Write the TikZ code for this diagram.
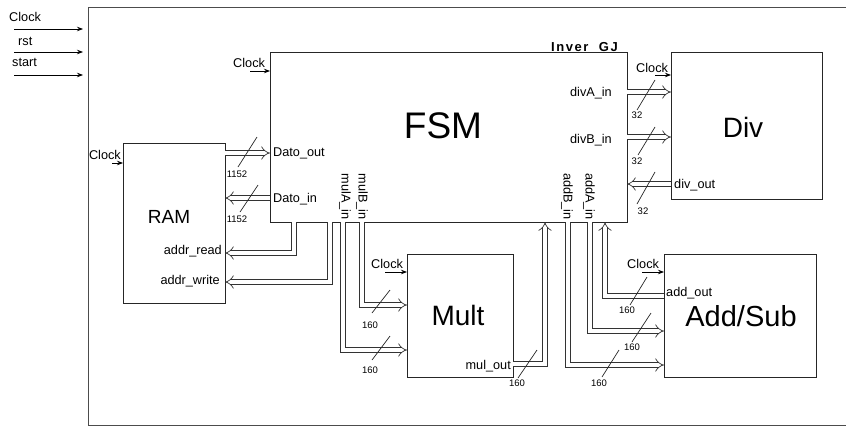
\documentclass[tikz,border=0pt]{standalone}
\usepackage{fontspec}
\setmainfont{Liberation Sans}
\usetikzlibrary{arrows.meta}
\begin{document}
\begin{tikzpicture}[x=1pt,y=-1pt,
  blk/.style={draw=black!85, line width=0.8pt, inner sep=0pt, anchor=north west},
  lbl/.style={inner sep=0pt, font=\fontsize{12.7}{14}\selectfont},
  num/.style={inner sep=0pt, font=\fontsize{9.5}{11}\selectfont},
  sig/.style={draw=black, line width=0.8pt, -{Stealth[length=6pt,width=4.5pt]}},
  bus/.style={draw=black!80, line width=0.7pt, double=white, double distance=4pt, -{Implies}},
  slash/.style={draw=black!85, line width=0.7pt},
  outer/.style={draw=black!70, line width=0.8pt}]
\useasboundingbox (0,0) rectangle (846,426);
% outer frame
\draw[outer] (852,7) -- (88,7) -- (88,425) -- (852,425);
% global inputs
\node[lbl, anchor=west] (clkin) at (9,17) {Clock};
\node[lbl, anchor=west] (rstin) at (18,41) {rst};
\node[lbl, anchor=west] (startin) at (12,62) {start};
\coordinate (c1s) at (14,29); \coordinate (c1e) at (83,29);
\coordinate (c2s) at (14,52); \coordinate (c2e) at (83,52);
\coordinate (c3s) at (14,75); \coordinate (c3e) at (83,75);
\draw[sig] (c1s) -- (c1e);
\draw[sig] (c2s) -- (c2e);
\draw[sig] (c3s) -- (c3e);
% module name (underscore hidden by the FSM top edge)
\node[inner sep=0pt, anchor=base east, font=\fontsize{13}{15}\selectfont\bfseries\addfontfeature{LetterSpace=12}] (inv) at (618,51.3) {Inver\_GJ};
% blocks
\node[blk, minimum width=357pt, minimum height=170pt, line width=1.1pt] (fsm) at (270,52) {};
\node[blk, minimum width=151pt, minimum height=147pt] (div) at (671,52) {};
\node[blk, minimum width=102pt, minimum height=160pt] (ram) at (123,143) {};
\node[blk, minimum width=106pt, minimum height=123pt] (mult) at (407,254) {};
\node[blk, minimum width=152pt, minimum height=123pt] (add) at (664,254) {};
% block titles
\node[inner sep=0pt, font=\fontsize{37}{40}\selectfont] (fsmt) at (443,126) {FSM};
\node[inner sep=0pt, font=\fontsize{28}{30}\selectfont] (divt) at (743,127) {Div};
\node[inner sep=0pt, font=\fontsize{19}{21}\selectfont] (ramt) at (169,217) {RAM};
\node[inner sep=0pt, font=\fontsize{28}{30}\selectfont] (multt) at (458,315) {Mult};
\node[inner sep=0pt, font=\fontsize{29}{31}\selectfont] (addt) at (741,316) {Add/Sub};
% clocks
\node[lbl, anchor=west] (fsmclk) at (233,63) {Clock};
\coordinate (fck1) at (250,71); \coordinate (fck2) at (270,71);
\draw[sig] (fck1) -- (fck2);
\node[lbl, anchor=east] (ramclk) at (121,155) {Clock};
\coordinate (rck1) at (112,163); \coordinate (rck2) at (123,163);
\draw[sig] (rck1) -- (rck2);
\node[lbl, anchor=west] (multclk) at (371,264) {Clock};
\coordinate (mck1) at (385,272); \coordinate (mck2) at (407,272);
\draw[sig] (mck1) -- (mck2);
\node[lbl, anchor=west] (addclk) at (627,264) {Clock};
\coordinate (ack1) at (642,272); \coordinate (ack2) at (664,272);
\draw[sig] (ack1) -- (ack2);
\node[lbl, anchor=west] (divclk) at (636,68) {Clock};
\coordinate (dck1) at (655,75); \coordinate (dck2) at (671,75);
\draw[sig] (dck1) -- (dck2);
% port labels
\node[lbl, anchor=west] (dout) at (273,153) {Dato\_out};
\node[lbl, anchor=west] (din) at (273,199) {Dato\_in};
\node[lbl, anchor=east] (ard) at (222,251) {addr\_read};
\node[lbl, anchor=east] (awr) at (220,281) {addr\_write};
\node[lbl, anchor=east] (mout) at (511,366) {mul\_out};
\node[lbl, anchor=west] (dvout) at (674,185) {div\_out};
\node[lbl, anchor=west] (aout) at (666,293) {add\_out};
\node[lbl, anchor=east] (dva) at (612,93) {divA\_in};
\node[lbl, anchor=east] (dvb) at (612,140) {divB\_in};
\node[lbl, anchor=east, rotate=-90] (mula) at (345,220) {mulA\_in};
\node[lbl, anchor=east, rotate=-90] (mulb) at (362,220) {mulB\_in};
\node[lbl, anchor=east, rotate=-90] (addb) at (567,220) {addB\_in};
\node[lbl, anchor=east, rotate=-90] (adda) at (589,220) {addA\_in};
% port coordinates
\coordinate (pDoR) at (225,153); \coordinate (pDoF) at (270,153);
\coordinate (pDiF) at (270,198); \coordinate (pDiR) at (225,198);
\coordinate (pArF) at (294,222); \coordinate (pArR) at (225,253);
\coordinate (pAwF) at (330,222); \coordinate (pAwR) at (225,282);
\coordinate (pMaF) at (343,222); \coordinate (pMaM) at (407,350);
\coordinate (pMbF) at (362,222); \coordinate (pMbM) at (407,305);
\coordinate (pMoM) at (513,364); \coordinate (pMoF) at (545,222);
\coordinate (pAbF) at (568,222); \coordinate (pAbA) at (664,365);
\coordinate (pAaF) at (590,222); \coordinate (pAaA) at (664,331);
\coordinate (pAoA) at (664,296); \coordinate (pAoF) at (605,222);
\coordinate (pDaF) at (627,92); \coordinate (pDaD) at (671,92);
\coordinate (pDbF) at (627,137); \coordinate (pDbD) at (671,137);
\coordinate (pDoD) at (671,184); \coordinate (pDoFi) at (627,184);
% buses
\draw[bus] (pDoR) -- (pDoF);
\draw[bus] (pDiF) -- (pDiR);
\draw[bus] (pArF) |- (pArR);
\draw[bus] (pAwF) |- (pAwR);
\draw[bus] (pMaF) |- (pMaM);
\draw[bus] (pMbF) |- (pMbM);
\draw[bus] (pMoM) -| (pMoF);
\draw[bus] (pAbF) |- (pAbA);
\draw[bus] (pAaF) |- (pAaA);
\draw[bus] (pAoA) -| (pAoF);
\draw[bus] (pDaF) -- (pDaD);
\draw[bus] (pDbF) -- (pDbD);
\draw[bus] (pDoD) -- (pDoFi);
% width slashes and numbers
\draw[slash] (238,167) -- (257,137);
\node[num] (n1) at (237,174) {1152};
\draw[slash] (240,212) -- (258,185);
\node[num] (n2) at (237,219) {1152};
\draw[slash] (637,110) -- (655,80);
\node[num] (n3) at (637,115) {32};
\draw[slash] (638,155) -- (655,127);
\node[num] (n4) at (637,161) {32};
\draw[slash] (637,204) -- (655,172);
\node[num] (n5) at (643,211) {32};
\draw[slash] (372,313) -- (390,290);
\node[num] (n6) at (370,325) {160};
\draw[slash] (372,360) -- (390,336);
\node[num] (n7) at (370,370) {160};
\draw[slash] (518,378) -- (537,350);
\node[num] (n8) at (517,383) {160};
\draw[slash] (630,305) -- (647,277);
\node[num] (n9) at (627,310) {160};
\draw[slash] (632,342) -- (651,313);
\node[num] (n10) at (632,347) {160};
\draw[slash] (602,377) -- (619,350);
\node[num] (n11) at (599,383) {160};
\end{tikzpicture}
\end{document}
